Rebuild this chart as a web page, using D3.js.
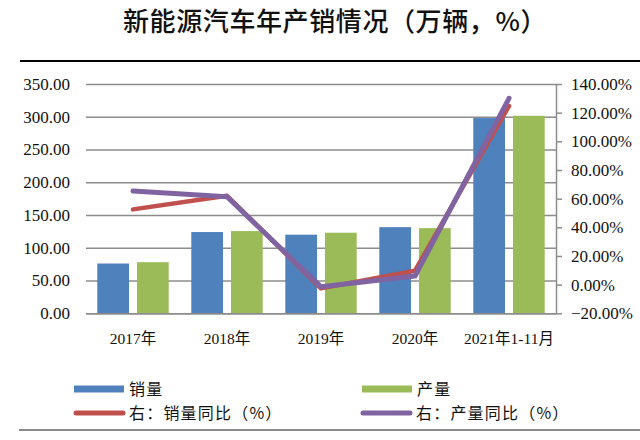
<!DOCTYPE html>
<html><head><meta charset="utf-8">
<script src="https://cdn.jsdelivr.net/npm/d3@7/dist/d3.min.js"></script>
<style>body{margin:0;background:#fff}svg{display:block}</style>
</head><body>
<svg id="c" width="640" height="440"></svg>
<script>
const categories = ["2017年","2018年","2019年","2020年","2021年1-11月"];
const sales = [76, 124, 120, 131.5, 298];
const production = [78, 125.5, 123, 130, 301.5];
const salesYoY = [52.5, 62, -2.6, 9.7, 124.6];
const prodYoY = [65.3, 61.3, -1.5, 6, 130];
const leftTicks = [0,50,100,150,200,250,300,350];
const rightTicks = [-20,0,20,40,60,80,100,120,140];
const seriesNames = ["销量","产量","右：销量同比（%）","右：产量同比（%）"];
const colors = {sales:"#4f81bd", prod:"#9bbb59", salesL:"#c0504d", prodL:"#8064a2"};

const svg = d3.select("#c");
const L = 86, R = 556, T = 84, B = 313.3;
const serif = "'Liberation Serif','Noto Sans CJK SC',serif";
const cjk = "'Noto Sans CJK SC',sans-serif";

svg.append("text").attr("x", 335).attr("y", 31).attr("text-anchor","middle")
  .attr("font-family", cjk).attr("font-size", 26).attr("letter-spacing", 0.6).attr("font-weight", 500).attr("fill","#111")
  .text("新能源汽车年产销情况（万辆，%）");
svg.append("line").attr("x1",20).attr("x2",640).attr("y1",61).attr("y2",61)
  .attr("stroke","#000").attr("stroke-width",2);

const x = d3.scaleBand().domain(categories).range([L,R]).paddingInner(0).paddingOuter(0);
const xi = d3.scaleBand().domain(["s","p"]).range([11.3, x.bandwidth()-11.3]).paddingInner(0.2);
const y = d3.scaleLinear().domain([0,350]).range([B,T]);
const y2 = d3.scaleLinear().domain([-20,140]).range([B,T]);

const gAxL = svg.append("g").attr("transform",`translate(${L},0)`)
  .call(d3.axisLeft(y).tickValues(leftTicks).tickSize(-(R-L)).tickSizeOuter(0).tickFormat(d3.format(".2f")));
gAxL.select(".domain").remove();
gAxL.selectAll(".tick line").attr("stroke","#8c8c8c").attr("stroke-width",1.5);
gAxL.selectAll(".tick text").attr("x",-16).attr("font-family",serif).attr("font-size",17).attr("fill","#111");

const gAxR = svg.append("g").attr("transform",`translate(${R},0)`)
  .call(d3.axisRight(y2).tickValues(rightTicks).tickSize(6).tickSizeOuter(0).tickFormat(d=>d3.format(".2f")(d)+"%"));
gAxR.select(".domain").attr("stroke","#8c8c8c").attr("stroke-width",1.5);
gAxR.selectAll(".tick line").attr("stroke","#8c8c8c").attr("stroke-width",1.5);
gAxR.selectAll(".tick text").attr("x",15).attr("font-family",serif).attr("font-size",17).attr("fill","#111");

const g = svg.append("g");
categories.forEach((c,i)=>{
  g.append("rect").attr("x", x(c)+xi("s")).attr("width", xi.bandwidth())
    .attr("y", y(sales[i])).attr("height", y(0)-y(sales[i])).attr("fill", colors.sales);
  g.append("rect").attr("x", x(c)+xi("p")).attr("width", xi.bandwidth())
    .attr("y", y(production[i])).attr("height", y(0)-y(production[i])).attr("fill", colors.prod);
});

const gAxB = svg.append("g").attr("transform",`translate(0,${B})`)
  .call(d3.axisBottom(x).tickSize(0).tickSizeOuter(0));
gAxB.select(".domain").attr("stroke","#8c8c8c").attr("stroke-width",1.5);
gAxB.selectAll(".tick text").attr("y",20).attr("font-family",serif).attr("font-size",15.5).attr("fill","#111");

const line = d3.line().x((d,i)=>x(categories[i])+x.bandwidth()/2).y(d=>y2(d));
svg.append("path").datum(salesYoY).attr("d",line).attr("fill","none")
  .attr("stroke",colors.salesL).attr("stroke-width",4.5).attr("stroke-linecap","round").attr("stroke-linejoin","round");
svg.append("path").datum(prodYoY).attr("d",line).attr("fill","none")
  .attr("stroke",colors.prodL).attr("stroke-width",5).attr("stroke-linecap","round").attr("stroke-linejoin","round");

const leg = [
  {name:seriesNames[0], c:colors.sales, type:"rect", x:74, y:389},
  {name:seriesNames[1], c:colors.prod, type:"rect", x:362, y:389},
  {name:seriesNames[2], c:colors.salesL, type:"line", x:74, y:413},
  {name:seriesNames[3], c:colors.prodL, type:"line", x:361, y:413}
];
leg.forEach(d=>{
  if(d.type==="rect"){
    svg.append("rect").attr("x",d.x).attr("y",d.y-3.5).attr("width",50).attr("height",7).attr("fill",d.c);
  } else {
    svg.append("line").attr("x1",d.x+2).attr("x2",d.x+49).attr("y1",d.y).attr("y2",d.y)
      .attr("stroke",d.c).attr("stroke-width",5).attr("stroke-linecap","round");
  }
  svg.append("text").attr("x",d.x+55).attr("y",d.y+6).attr("font-family",cjk)
    .attr("font-size",16).attr("letter-spacing",1.2).attr("fill","#111").text(d.name);
});
svg.append("line").attr("x1",19).attr("x2",640).attr("y1",430).attr("y2",430)
  .attr("stroke","#8a8a8a").attr("stroke-width",2);
</script>
</body></html>
